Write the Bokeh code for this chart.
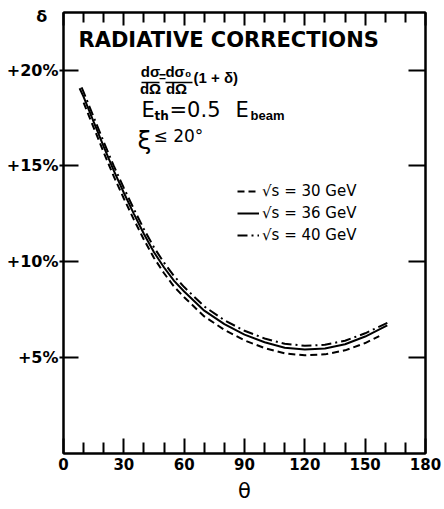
from bokeh.plotting import figure
from bokeh.models import (Range1d, LinearAxis, FixedTicker, Label, Legend,
                          LegendItem)
from bokeh.embed import file_html
from bokeh.resources import INLINE

# Scattering angle (degrees) and radiative correction delta (%) per energy
theta_30 = [10, 15, 20, 25, 30, 35, 40, 45, 50, 55, 60, 70, 80, 90, 100,
            110, 120, 130, 140, 150, 157]
delta_30 = [18.3, 17.0, 15.7, 14.45, 13.3, 12.2, 11.15, 10.2, 9.4, 8.7,
            8.15, 7.15, 6.45, 5.9, 5.5, 5.22, 5.12, 5.17, 5.38, 5.76, 6.12]

theta_36 = [8, 10, 15, 20, 25, 30, 35, 40, 45, 50, 55, 60, 70, 80, 90, 100,
            110, 120, 130, 140, 150, 161]
delta_36 = [19.05, 18.6, 17.3, 16.0, 14.75, 13.6, 12.5, 11.45, 10.5, 9.7,
            9.0, 8.45, 7.45, 6.75, 6.2, 5.8, 5.52, 5.42, 5.48, 5.7, 6.1, 6.68]

theta_40 = [9, 10, 15, 20, 25, 30, 35, 40, 45, 50, 55, 60, 70, 80, 90, 100,
            110, 120, 130, 140, 150, 161.5]
delta_40 = [19.1, 18.85, 17.55, 16.25, 15.0, 13.85, 12.75, 11.7, 10.75, 9.95,
            9.25, 8.68, 7.67, 6.95, 6.4, 6.0, 5.72, 5.62, 5.67, 5.88, 6.27, 6.84]

x_major = [0, 30, 60, 90, 120, 150, 180]
x_minor = [10, 20, 40, 50, 70, 80, 100, 110, 130, 140, 160, 170]
y_ticks = [5, 10, 15, 20]
y_labels = {5: "+5%", 10: "+10%", 15: "+15%", 20: "+20%"}
y_symbol_at = 22.8          # height of the delta symbol on the left side

X0, X1 = 0, 180
Y0, Y1 = 0, 23.0
FL, FR, FT, FB = 63, 425, 12, 453   # frame edges in page pixels


def at(px, py):
    """Page pixel position -> data coordinates (for annotation placement)."""
    return (X0 + (px - FL) / (FR - FL) * (X1 - X0),
            Y0 + (FB - py) / (FB - FT) * (Y1 - Y0))


FONT = "DejaVu Sans"
FORM = "Liberation Sans"

p = figure(frame_width=FR - FL, frame_height=FB - FT,
           min_border_left=FL, min_border_right=444 - FR,
           min_border_top=FT, min_border_bottom=509 - FB,
           x_range=Range1d(X0, X1), y_range=Range1d(Y0, Y1),
           output_backend="svg", toolbar_location=None,
           x_axis_location=None, y_axis_location=None)
p.grid.visible = False
p.outline_line_color = "black"
p.outline_line_width = 2
p.background_fill_color = "white"
p.border_fill_color = "white"


def blank_labels(axis, ticks):
    axis.major_label_overrides = {t: "" for t in ticks}
    axis.major_label_text_font_size = "0px"
    axis.major_label_standoff = 0


# bottom axis with labels
xb = LinearAxis(ticker=FixedTicker(ticks=x_major, minor_ticks=x_minor))
xb.major_tick_in = 15
xb.major_tick_out = 0
xb.minor_tick_in = 11
xb.minor_tick_out = 0
xb.major_tick_line_width = 2
xb.minor_tick_line_width = 2
xb.axis_line_width = 2
xb.major_label_standoff = 4
xb.major_label_text_font = FONT
xb.major_label_text_font_style = "bold"
xb.major_label_text_font_size = "15px"
xb.major_label_text_color = "black"
xb.axis_label = "θ"
xb.axis_label_text_font = FONT
xb.axis_label_text_font_style = "normal"
xb.axis_label_text_font_size = "21px"
xb.axis_label_text_color = "black"
xb.axis_label_standoff = 6
p.add_layout(xb, "below")

# top axis: ticks only
xt = LinearAxis(ticker=FixedTicker(ticks=x_major, minor_ticks=x_minor))
xt.major_tick_in = 13
xt.major_tick_out = 0
xt.minor_tick_in = 10
xt.minor_tick_out = 0
xt.major_tick_line_width = 2
xt.minor_tick_line_width = 2
xt.axis_line_width = 2
blank_labels(xt, x_major)
p.add_layout(xt, "above")

# left side: tick marks crossing the frame
yl = LinearAxis(ticker=FixedTicker(ticks=y_ticks, minor_ticks=[]))
yl.major_tick_in = 15
yl.major_tick_out = 4
yl.major_tick_line_width = 2
yl.axis_line_width = 2
blank_labels(yl, y_ticks)
p.add_layout(yl, "left")

# left side: percentage labels and the delta symbol (padded with
# no-break spaces so it sits further out than the percentages)
left_text = dict(y_labels)
left_text[y_symbol_at] = "δ\u00a0\u00a0"
yl_text = LinearAxis(ticker=FixedTicker(ticks=y_ticks + [y_symbol_at],
                                        minor_ticks=[]))
yl_text.major_label_overrides = left_text
yl_text.major_tick_line_color = None
yl_text.axis_line_color = None
yl_text.major_tick_in = 0
yl_text.major_tick_out = 0
yl_text.major_label_standoff = 1
yl_text.major_label_text_font = FONT
yl_text.major_label_text_font_style = "bold"
yl_text.major_label_text_font_size = "16px"
yl_text.major_label_text_color = "black"
p.add_layout(yl_text, "left")

# right axis: ticks only
yr = LinearAxis(ticker=FixedTicker(ticks=y_ticks, minor_ticks=[]))
yr.major_tick_in = 17
yr.major_tick_out = 0
yr.major_tick_line_width = 2
yr.axis_line_width = 2
blank_labels(yr, y_ticks)
p.add_layout(yr, "right")

# curves
r30 = p.line(theta_30, delta_30, line_color="black", line_width=2,
             line_dash="7 4")
r36 = p.line(theta_36, delta_36, line_color="black", line_width=2)
r40 = p.line(theta_40, delta_40, line_color="black", line_width=2,
             line_dash="10 4 2 4")

legend = Legend(items=[LegendItem(label="√s = 30 GeV", renderers=[r30]),
                       LegendItem(label="√s = 36 GeV", renderers=[r36]),
                       LegendItem(label="√s = 40 GeV", renderers=[r40])],
                location=(174, 208))
legend.border_line_color = None
legend.background_fill_alpha = 0
legend.label_text_font = FONT
legend.label_text_font_size = "15px"
legend.label_text_color = "black"
legend.glyph_width = 22
legend.glyph_height = 20
legend.label_height = 20
legend.label_standoff = 3
legend.spacing = 2
legend.padding = 0
legend.margin = 0
p.add_layout(legend, "center")

LIFT = 8   # Label baseline sits this many px below the requested point


def put(text, px, py, size, style="normal", align="left", font=FONT):
    x, y = at(px, py - LIFT)
    p.add_layout(Label(x=x, y=y, text=text, text_font=font,
                       text_font_size=size, text_font_style=style,
                       text_color="black", text_align=align,
                       text_baseline="alphabetic"))


# heading
put("RADIATIVE CORRECTIONS", 78, 47, "21px", "bold")

# cross-section relation
put("dσ", 150, 79, "15px", "bold", align="center", font=FORM)
put("dΩ", 150, 96, "15px", "bold", align="center", font=FORM)
put("=", 162, 84, "12px", "bold", align="center", font=FORM)
put("dσ₀", 178, 79, "15px", "bold", align="center", font=FORM)
put("dΩ", 176, 96, "15px", "bold", align="center", font=FORM)
put("(1 + δ)", 193, 85, "15px", "bold", font=FORM)
fx0, fy0 = at(141, 82)
fx1, _ = at(159, 82)
gx0, _ = at(165, 82)
gx1, _ = at(192, 82)
p.segment(x0=[fx0, gx0], y0=[fy0, fy0], x1=[fx1, gx1], y1=[fy0, fy0],
          line_color="black", line_width=1.5)

# threshold energy
put("E", 141, 117, "21px")
put("th", 154, 123, "12px", "bold")
put("=0.5", 169, 117, "21px")
put("E", 235, 117, "21px")
put("beam", 250, 123, "13px", "bold", font=FORM)

# acollinearity cut
put("ξ", 137, 148, "25px")
put("≤ 20°", 153, 143, "17px")

open("out.html", "w").write(file_html(p, INLINE))
